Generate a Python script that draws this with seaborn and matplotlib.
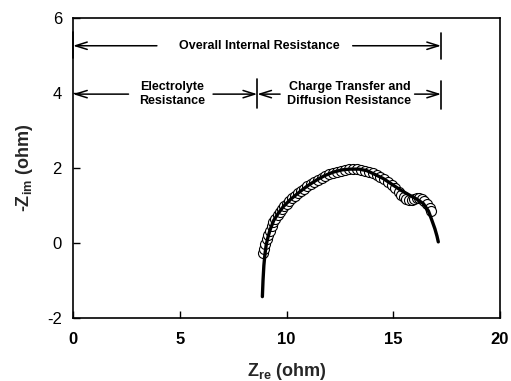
import matplotlib
matplotlib.use("Agg")
import matplotlib.pyplot as plt
import seaborn as sns
import pandas as pd

# Fitted (equivalent-circuit) curve
fit_zre = [8.87, 8.90, 8.94, 8.99, 9.05, 9.13, 9.23, 9.40, 9.60, 9.85, 10.20, 10.63, 11.00,
           11.41, 11.80, 12.19, 12.60, 12.97, 13.40, 13.76, 14.10, 14.53, 14.90, 15.32,
           15.78, 16.10, 16.41, 16.65, 16.80, 16.95, 17.05, 17.11]
fit_zim = [-1.43, -1.00, -0.60, -0.30, -0.05, 0.15, 0.35, 0.60, 0.78, 0.97, 1.17, 1.37, 1.53,
           1.68, 1.80, 1.89, 1.95, 1.97, 1.97, 1.93, 1.84, 1.72, 1.58, 1.42,
           1.27, 1.17, 1.05, 0.85, 0.62, 0.38, 0.18, 0.03]

# Measured data (open circles)
data_zre = [8.92, 8.96, 9.01, 9.07, 9.14, 9.22, 9.30, 9.39, 9.48, 9.58, 9.68, 9.79, 9.90,
            10.02, 10.14, 10.27, 10.40, 10.54, 10.68, 10.83, 10.98, 11.14, 11.30, 11.47,
            11.64, 11.82, 12.00, 12.18, 12.37, 12.56, 12.75, 12.94, 13.13, 13.32, 13.50,
            13.68, 13.86, 14.04, 14.22, 14.40, 14.58, 14.76, 14.94, 15.10, 15.25, 15.38,
            15.50, 15.62, 15.74, 15.86, 15.98, 16.10, 16.22, 16.34, 16.46, 16.58, 16.70, 16.78]
data_zim = [-0.28, -0.15, -0.02, 0.10, 0.20, 0.33, 0.44, 0.55, 0.65, 0.74, 0.82, 0.90, 0.98,
            1.05, 1.12, 1.19, 1.26, 1.33, 1.39, 1.45, 1.51, 1.57, 1.63, 1.68,
            1.73, 1.78, 1.83, 1.87, 1.90, 1.93, 1.95, 1.96, 1.96, 1.96, 1.95,
            1.93, 1.90, 1.86, 1.81, 1.76, 1.70, 1.63, 1.55, 1.46, 1.37, 1.29,
            1.22, 1.17, 1.15, 1.15, 1.17, 1.19, 1.20, 1.18, 1.12, 1.04, 0.94, 0.86]

x_ticks = [0, 5, 10, 15, 20]
y_ticks = [-2, 0, 2, 4, 6]

# Resistance boundaries (ohm) used for annotations
r_start = 0.0
r_electrolyte = 8.63
r_total = 17.24

sns.set_theme(style="ticks")
plt.rcParams['font.family'] = ['Liberation Sans', 'DejaVu Sans']
plt.rcParams['mathtext.fontset'] = 'custom'
plt.rcParams['mathtext.rm'] = 'Liberation Sans:bold'
plt.rcParams['mathtext.bf'] = 'Liberation Sans:bold'
plt.rcParams['mathtext.default'] = 'rm'

fig = plt.figure(figsize=(5.11, 3.81), dpi=100)
ax = fig.add_axes([73/511, 1-318/381, 427/511, 300/381])

df_data = pd.DataFrame({"zre": data_zre, "zim": data_zim})
df_fit = pd.DataFrame({"zre": fit_zre, "zim": fit_zim})

sns.scatterplot(data=df_data, x="zre", y="zim", ax=ax, s=52, marker="o",
                facecolor="white", edgecolor="black", linewidth=0.8, zorder=2)
sns.lineplot(data=df_fit, x="zre", y="zim", ax=ax, sort=False, color="black",
             linewidth=2.4, zorder=3)

ax.set_xlim(0, 20)
ax.set_ylim(-2, 6)
ax.set_xticks(x_ticks)
ax.set_yticks(y_ticks)
ax.set_xticklabels([str(t) for t in x_ticks], fontsize=12, fontweight='bold')
ax.set_yticklabels([str(t) for t in y_ticks], fontsize=12)
ax.tick_params(axis='x', direction='in', length=5, width=1, pad=10, colors='black')
ax.tick_params(axis='y', direction='in', length=5, width=1, pad=8, colors='black')
for sp in ax.spines.values():
    sp.set_visible(True)
    sp.set_color('black')
    sp.set_linewidth(1.2)

ax.set_xlabel(r'Z$_{re}$ (ohm)', fontsize=13, fontweight='bold', labelpad=10)
ax.set_ylabel(r'-Z$_{im}$ (ohm)', fontsize=13, fontweight='bold', labelpad=9)

arr = dict(arrowstyle='->,head_length=0.7,head_width=0.22', lw=1.1, color='black',
           mutation_scale=12, shrinkA=0, shrinkB=0)
tfont = dict(fontsize=9, fontweight='bold', ha='center', va='center', color='black')

# Overall internal resistance
y1 = 5.26
ax.plot([r_start, r_start], [4.93, 5.63], color='black', lw=1.2, clip_on=False)
ax.plot([r_total, r_total], [4.91, 5.61], color='black', lw=1.2)
ax.annotate('', xy=(r_start, y1), xytext=(3.93, y1), arrowprops=arr)
ax.annotate('', xy=(r_total, y1), xytext=(13.1, y1), arrowprops=arr)
ax.text(8.71, y1, 'Overall Internal Resistance', **tfont)

# Electrolyte / charge transfer
y2 = 3.97
ax.plot([r_electrolyte, r_electrolyte], [3.6, 4.37], color='black', lw=1.2)
ax.plot([r_total, r_total], [3.57, 4.32], color='black', lw=1.2)
ax.annotate('', xy=(r_start, y2), xytext=(2.6, y2), arrowprops=arr)
ax.annotate('', xy=(r_electrolyte, y2), xytext=(6.56, y2), arrowprops=arr)
ax.annotate('', xy=(r_electrolyte, y2), xytext=(9.7, y2), arrowprops=arr)
ax.annotate('', xy=(r_total, y2), xytext=(16.0, y2), arrowprops=arr)
ax.text(4.66, y2, 'Electrolyte\nResistance', linespacing=1.15, **tfont)
ax.text(12.95, y2, 'Charge Transfer and\nDiffusion Resistance', linespacing=1.15, **tfont)

fig.savefig('out.png', dpi=100)
